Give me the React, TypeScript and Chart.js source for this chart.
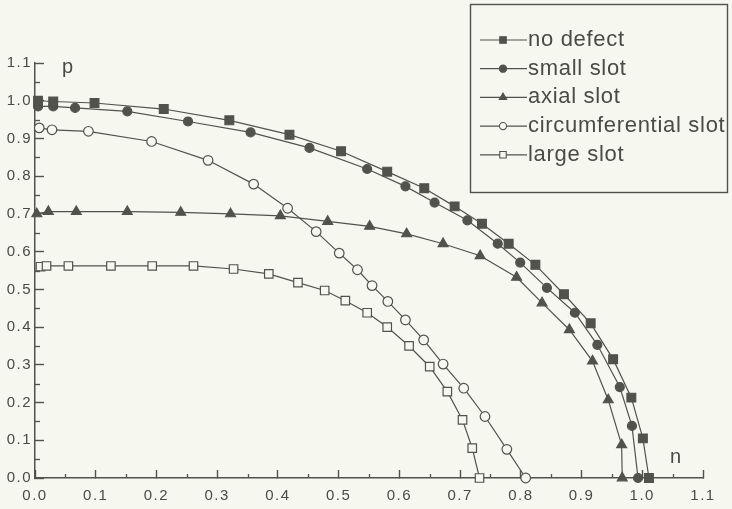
import React, { useEffect, useRef } from 'react';
import { Chart, registerables } from 'chart.js';

Chart.register(...registerables);

// ---- data (n, p) ----
const nNoDefect = [0.005, 0.03, 0.098, 0.212, 0.32, 0.419, 0.504, 0.58, 0.641, 0.691, 0.736, 0.78, 0.824, 0.871, 0.915, 0.952, 0.982, 1.001, 1.011];
const pNoDefect = [1.0, 0.998, 0.994, 0.978, 0.948, 0.91, 0.866, 0.812, 0.768, 0.72, 0.674, 0.621, 0.565, 0.487, 0.41, 0.315, 0.213, 0.105, 0.0];

const nSmallSlot = [0.005, 0.03, 0.066, 0.152, 0.252, 0.355, 0.452, 0.547, 0.61, 0.658, 0.712, 0.762, 0.799, 0.843, 0.889, 0.926, 0.963, 0.983, 0.993];
const pSmallSlot = [0.985, 0.985, 0.981, 0.972, 0.945, 0.916, 0.875, 0.819, 0.773, 0.73, 0.683, 0.621, 0.571, 0.504, 0.438, 0.353, 0.241, 0.138, 0.0];

const nAxialSlot = [0.003, 0.022, 0.068, 0.152, 0.24, 0.322, 0.404, 0.482, 0.551, 0.612, 0.672, 0.733, 0.793, 0.835, 0.88, 0.918, 0.944, 0.966, 0.967];
const pAxialSlot = [0.70, 0.706, 0.706, 0.706, 0.704, 0.70, 0.695, 0.68, 0.667, 0.647, 0.621, 0.589, 0.532, 0.464, 0.393, 0.31, 0.207, 0.088, 0.0];

const nCircSlot = [0.007, 0.028, 0.088, 0.192, 0.285, 0.36, 0.416, 0.463, 0.501, 0.531, 0.555, 0.581, 0.61, 0.64, 0.672, 0.706, 0.741, 0.777, 0.808];
const pCircSlot = [0.928, 0.923, 0.919, 0.892, 0.842, 0.779, 0.715, 0.653, 0.596, 0.552, 0.51, 0.468, 0.419, 0.366, 0.302, 0.238, 0.163, 0.076, 0.0];

const nLargeSlot = [0.009, 0.019, 0.055, 0.125, 0.193, 0.261, 0.327, 0.385, 0.433, 0.477, 0.511, 0.547, 0.58, 0.616, 0.65, 0.679, 0.704, 0.72, 0.732];
const pLargeSlot = [0.56, 0.562, 0.562, 0.562, 0.562, 0.562, 0.554, 0.541, 0.518, 0.497, 0.47, 0.438, 0.4, 0.35, 0.295, 0.229, 0.154, 0.079, 0.0];

const seriesNames = ['no defect', 'small slot', 'axial slot', 'circumferential slot', 'large slot'];

const xTickValues = [0, 0.1, 0.2, 0.3, 0.4, 0.5, 0.6, 0.7, 0.8, 0.9, 1.0, 1.1];
const yTickValues = [0, 0.1, 0.2, 0.3, 0.4, 0.5, 0.6, 0.7, 0.8, 0.9, 1.0, 1.1];
const minorTickValues = [0.05, 0.15, 0.25, 0.35, 0.45, 0.55, 0.65, 0.75, 0.85, 0.95, 1.05];

const INK = '#52524d';
const TEXT = '#4a4a46';
const BG = '#f6f8ef';
const FONT = '"Liberation Sans", Arial, sans-serif';

type Marker = { style: string; filled: boolean; radius: number; legendRadius: number };
const markers: Marker[] = [
  { style: 'rect', filled: true, radius: 6.2, legendRadius: 4.6 },
  { style: 'circle', filled: true, radius: 4.5, legendRadius: 3.6 },
  { style: 'triangle', filled: true, radius: 5.7, legendRadius: 4.3 },
  { style: 'circle', filled: false, radius: 4.8, legendRadius: 3.6 },
  { style: 'rect', filled: false, radius: 6, legendRadius: 4.6 },
];

const seriesN = [nNoDefect, nSmallSlot, nAxialSlot, nCircSlot, nLargeSlot];
const seriesP = [pNoDefect, pSmallSlot, pAxialSlot, pCircSlot, pLargeSlot];

function drawMarker(ctx: CanvasRenderingContext2D, m: Marker, x: number, y: number, r: number) {
  ctx.beginPath();
  if (m.style === 'rect') {
    const s = Math.SQRT1_2 * r;
    ctx.rect(x - s, y - s, 2 * s, 2 * s);
  } else if (m.style === 'circle') {
    ctx.arc(x, y, r, 0, Math.PI * 2);
  } else {
    const w = Math.sin(Math.PI / 3) * r;
    ctx.moveTo(x, y - r);
    ctx.lineTo(x + w, y + r / 2);
    ctx.lineTo(x - w, y + r / 2);
    ctx.closePath();
  }
  ctx.fillStyle = m.filled ? INK : BG;
  ctx.fill();
  ctx.lineWidth = 1.1;
  ctx.strokeStyle = INK;
  ctx.stroke();
}

const decorPlugin = {
  id: 'decor',
  beforeDraw(chart: any) {
    const ctx = chart.ctx;
    ctx.fillStyle = BG;
    ctx.fillRect(0, 0, chart.width, chart.height);
    // wider spacing for the scanned-looking tick labels
    (ctx as any).letterSpacing = '1.5px';
  },
  beforeDatasetsDraw(chart: any) {
    (chart.ctx as any).letterSpacing = '0px';
  },
  afterDraw(chart: any) {
    const ctx: CanvasRenderingContext2D = chart.ctx;
    const xs = chart.scales.x;
    const ys = chart.scales.y;
    const area = chart.chartArea;
    ctx.save();
    // minor ticks
    ctx.strokeStyle = INK;
    ctx.lineWidth = 1.3;
    minorTickValues.forEach((v) => {
      const px = Math.round(xs.getPixelForValue(v)) + 0.5;
      ctx.beginPath();
      ctx.moveTo(px, area.bottom);
      ctx.lineTo(px, area.bottom - 4);
      ctx.stroke();
      const py = Math.round(ys.getPixelForValue(v)) + 0.5;
      ctx.beginPath();
      ctx.moveTo(area.left, py);
      ctx.lineTo(area.left + 5, py);
      ctx.stroke();
    });
    // axis titles
    ctx.fillStyle = TEXT;
    ctx.font = `20px ${FONT}`;
    ctx.textAlign = 'left';
    ctx.textBaseline = 'alphabetic';
    ctx.fillText('p', area.left + 27, area.top + 10);
    ctx.fillText('n', area.right - 33, area.bottom - 15);

    // legend box
    const bx = 470.5, by = 4.5, bw = 257, bh = 188;
    ctx.lineWidth = 1.4;
    ctx.strokeStyle = INK;
    ctx.strokeRect(bx, by, bw, bh);
    ctx.font = `22px ${FONT}`;
    (ctx as any).letterSpacing = '0.7px';
    ctx.textBaseline = 'middle';
    seriesNames.forEach((name, i) => {
      const ry = 40 + i * 28.7;
      ctx.beginPath();
      ctx.lineWidth = 1.2;
      ctx.strokeStyle = INK;
      ctx.moveTo(480, ry);
      ctx.lineTo(527, ry);
      ctx.stroke();
      drawMarker(ctx, markers[i], 503, ry, markers[i].legendRadius);
      ctx.fillStyle = TEXT;
      ctx.fillText(name, 528, ry);
    });
    (ctx as any).letterSpacing = '0px';
    ctx.restore();
  },
};

export default function App() {
  const ref = useRef<HTMLCanvasElement | null>(null);

  useEffect(() => {
    if (!ref.current) return;
    const datasets = seriesNames.map((name, i) => ({
      label: name,
      data: seriesN[i].map((n, j) => ({ x: n, y: seriesP[i][j] })),
      showLine: true,
      borderColor: INK,
      borderWidth: 1.2,
      pointStyle: markers[i].style,
      pointRadius: markers[i].radius,
      pointHoverRadius: markers[i].radius,
      pointBackgroundColor: markers[i].filled ? INK : BG,
      pointBorderColor: INK,
      pointBorderWidth: 1.2,
      fill: false,
      tension: 0,
      clip: false as any,
    }));

    const chart = new Chart(ref.current, {
      type: 'scatter',
      data: { datasets },
      plugins: [decorPlugin],
      options: {
        animation: false,
        responsive: false,
        maintainAspectRatio: false,
        events: [],
        layout: { padding: { top: 63, right: 29, left: 0, bottom: 0 } },
        plugins: {
          legend: { display: false },
          tooltip: { enabled: false },
          title: { display: false },
        },
        scales: {
          x: {
            type: 'linear',
            min: 0,
            max: 1.1,
            afterBuildTicks: (scale: any) => {
              scale.ticks = xTickValues.map((v) => ({ value: v }));
            },
            afterFit: (scale: any) => {
              scale.height = 31;
            },
            border: { display: true, color: INK, width: 1.5 },
            grid: {
              drawOnChartArea: false,
              drawTicks: true,
              tickLength: -8,
              tickColor: INK,
              tickWidth: 1.4,
            },
            ticks: {
              autoSkip: false,
              maxRotation: 0,
              padding: 17,
              color: TEXT,
              font: { family: FONT, size: 15 },
              callback: (v: any) => Number(v).toFixed(1),
            },
          },
          y: {
            type: 'linear',
            min: 0,
            max: 1.1,
            afterBuildTicks: (scale: any) => {
              scale.ticks = yTickValues.map((v) => ({ value: v }));
            },
            afterFit: (scale: any) => {
              scale.width = 35;
            },
            border: { display: true, color: INK, width: 1.5 },
            grid: {
              drawOnChartArea: false,
              drawTicks: true,
              tickLength: -9,
              tickColor: INK,
              tickWidth: 1.4,
            },
            ticks: {
              autoSkip: false,
              padding: 12,
              color: TEXT,
              font: { family: FONT, size: 15 },
              callback: (v: any) => Number(v).toFixed(1),
            },
          },
        },
      } as any,
    });
    return () => chart.destroy();
  }, []);

  return (
    <div style={{ position: 'absolute', left: 0, top: 0, width: 732, height: 509, background: BG }}>
      <canvas ref={ref} width={732} height={509} style={{ display: 'block', width: 732, height: 509 }} />
    </div>
  );
}
